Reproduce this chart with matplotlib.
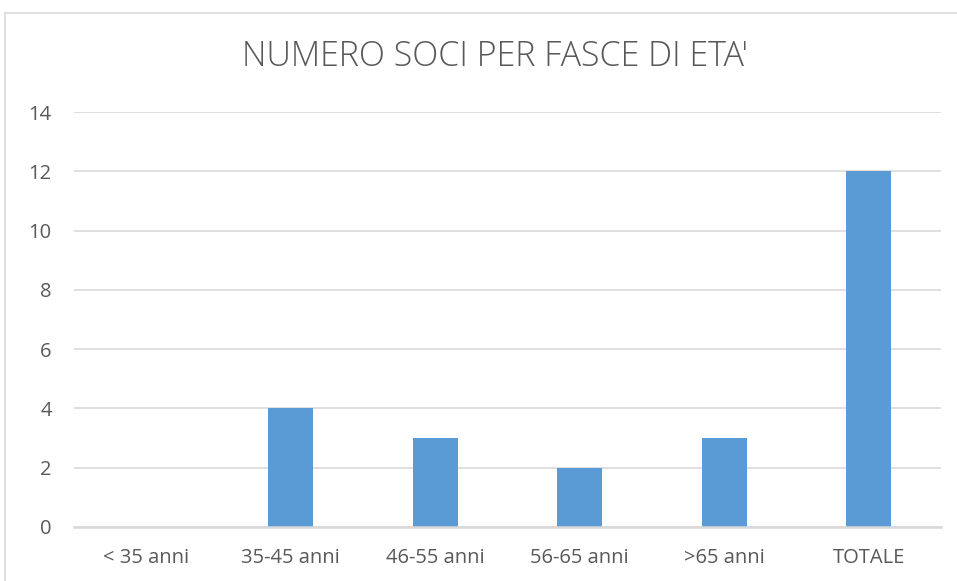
import matplotlib.pyplot as plt
from matplotlib.lines import Line2D

categories = ['< 35 anni', '35-45 anni', '46-55 anni', '56-65 anni', '>65 anni', 'TOTALE']
soci = [0, 4, 3, 2, 3, 12]
yticks = [0, 2, 4, 6, 8, 10, 12, 14]

plt.rcParams['font.family'] = ['Open Sans', 'DejaVu Sans']

W, H = 957, 581
fig = plt.figure(figsize=(W / 100, H / 100), dpi=100)
ax = fig.add_axes([74 / W, 1 - 527 / H, (941 - 74) / W, (527 - 112) / H])

x = range(len(categories))
ax.bar(x, soci, width=0.31, color='#5B9BD5', zorder=3)

ax.set_xlim(-0.5, len(categories) - 0.5)
ax.set_ylim(0, 14)
ax.set_yticks(yticks)
ax.set_xticks(list(x))
ax.set_xticklabels(categories)
ax.tick_params(length=0, labelsize=14.5, labelcolor='#595959')
ax.tick_params(axis='x', pad=15)
ax.tick_params(axis='y', pad=16)
ax.grid(axis='y', color='#D9D9D9', linewidth=1.2, zorder=0)
for s in ['top', 'right', 'left']:
    ax.spines[s].set_visible(False)
ax.spines['bottom'].set_color('#D9D9D9')
ax.spines['bottom'].set_linewidth(1.8)
ax.spines['bottom'].set_zorder(4)

fig.text(495 / W, 1 - 57 / H, "NUMERO SOCI PER FASCE DI ETA'", ha='center', va='center',
         fontsize=24.5, color='#595959', fontweight='light')

# outer chart frame (only top and left visible)
fig.add_artist(Line2D([5 / W, 5 / W], [0, 1 - 13 / H], transform=fig.transFigure,
                      color='#D9D9D9', linewidth=1.2))
fig.add_artist(Line2D([5 / W, 1], [1 - 13 / H, 1 - 13 / H], transform=fig.transFigure,
                      color='#D9D9D9', linewidth=1.2))

fig.savefig('out.png', dpi=100)
